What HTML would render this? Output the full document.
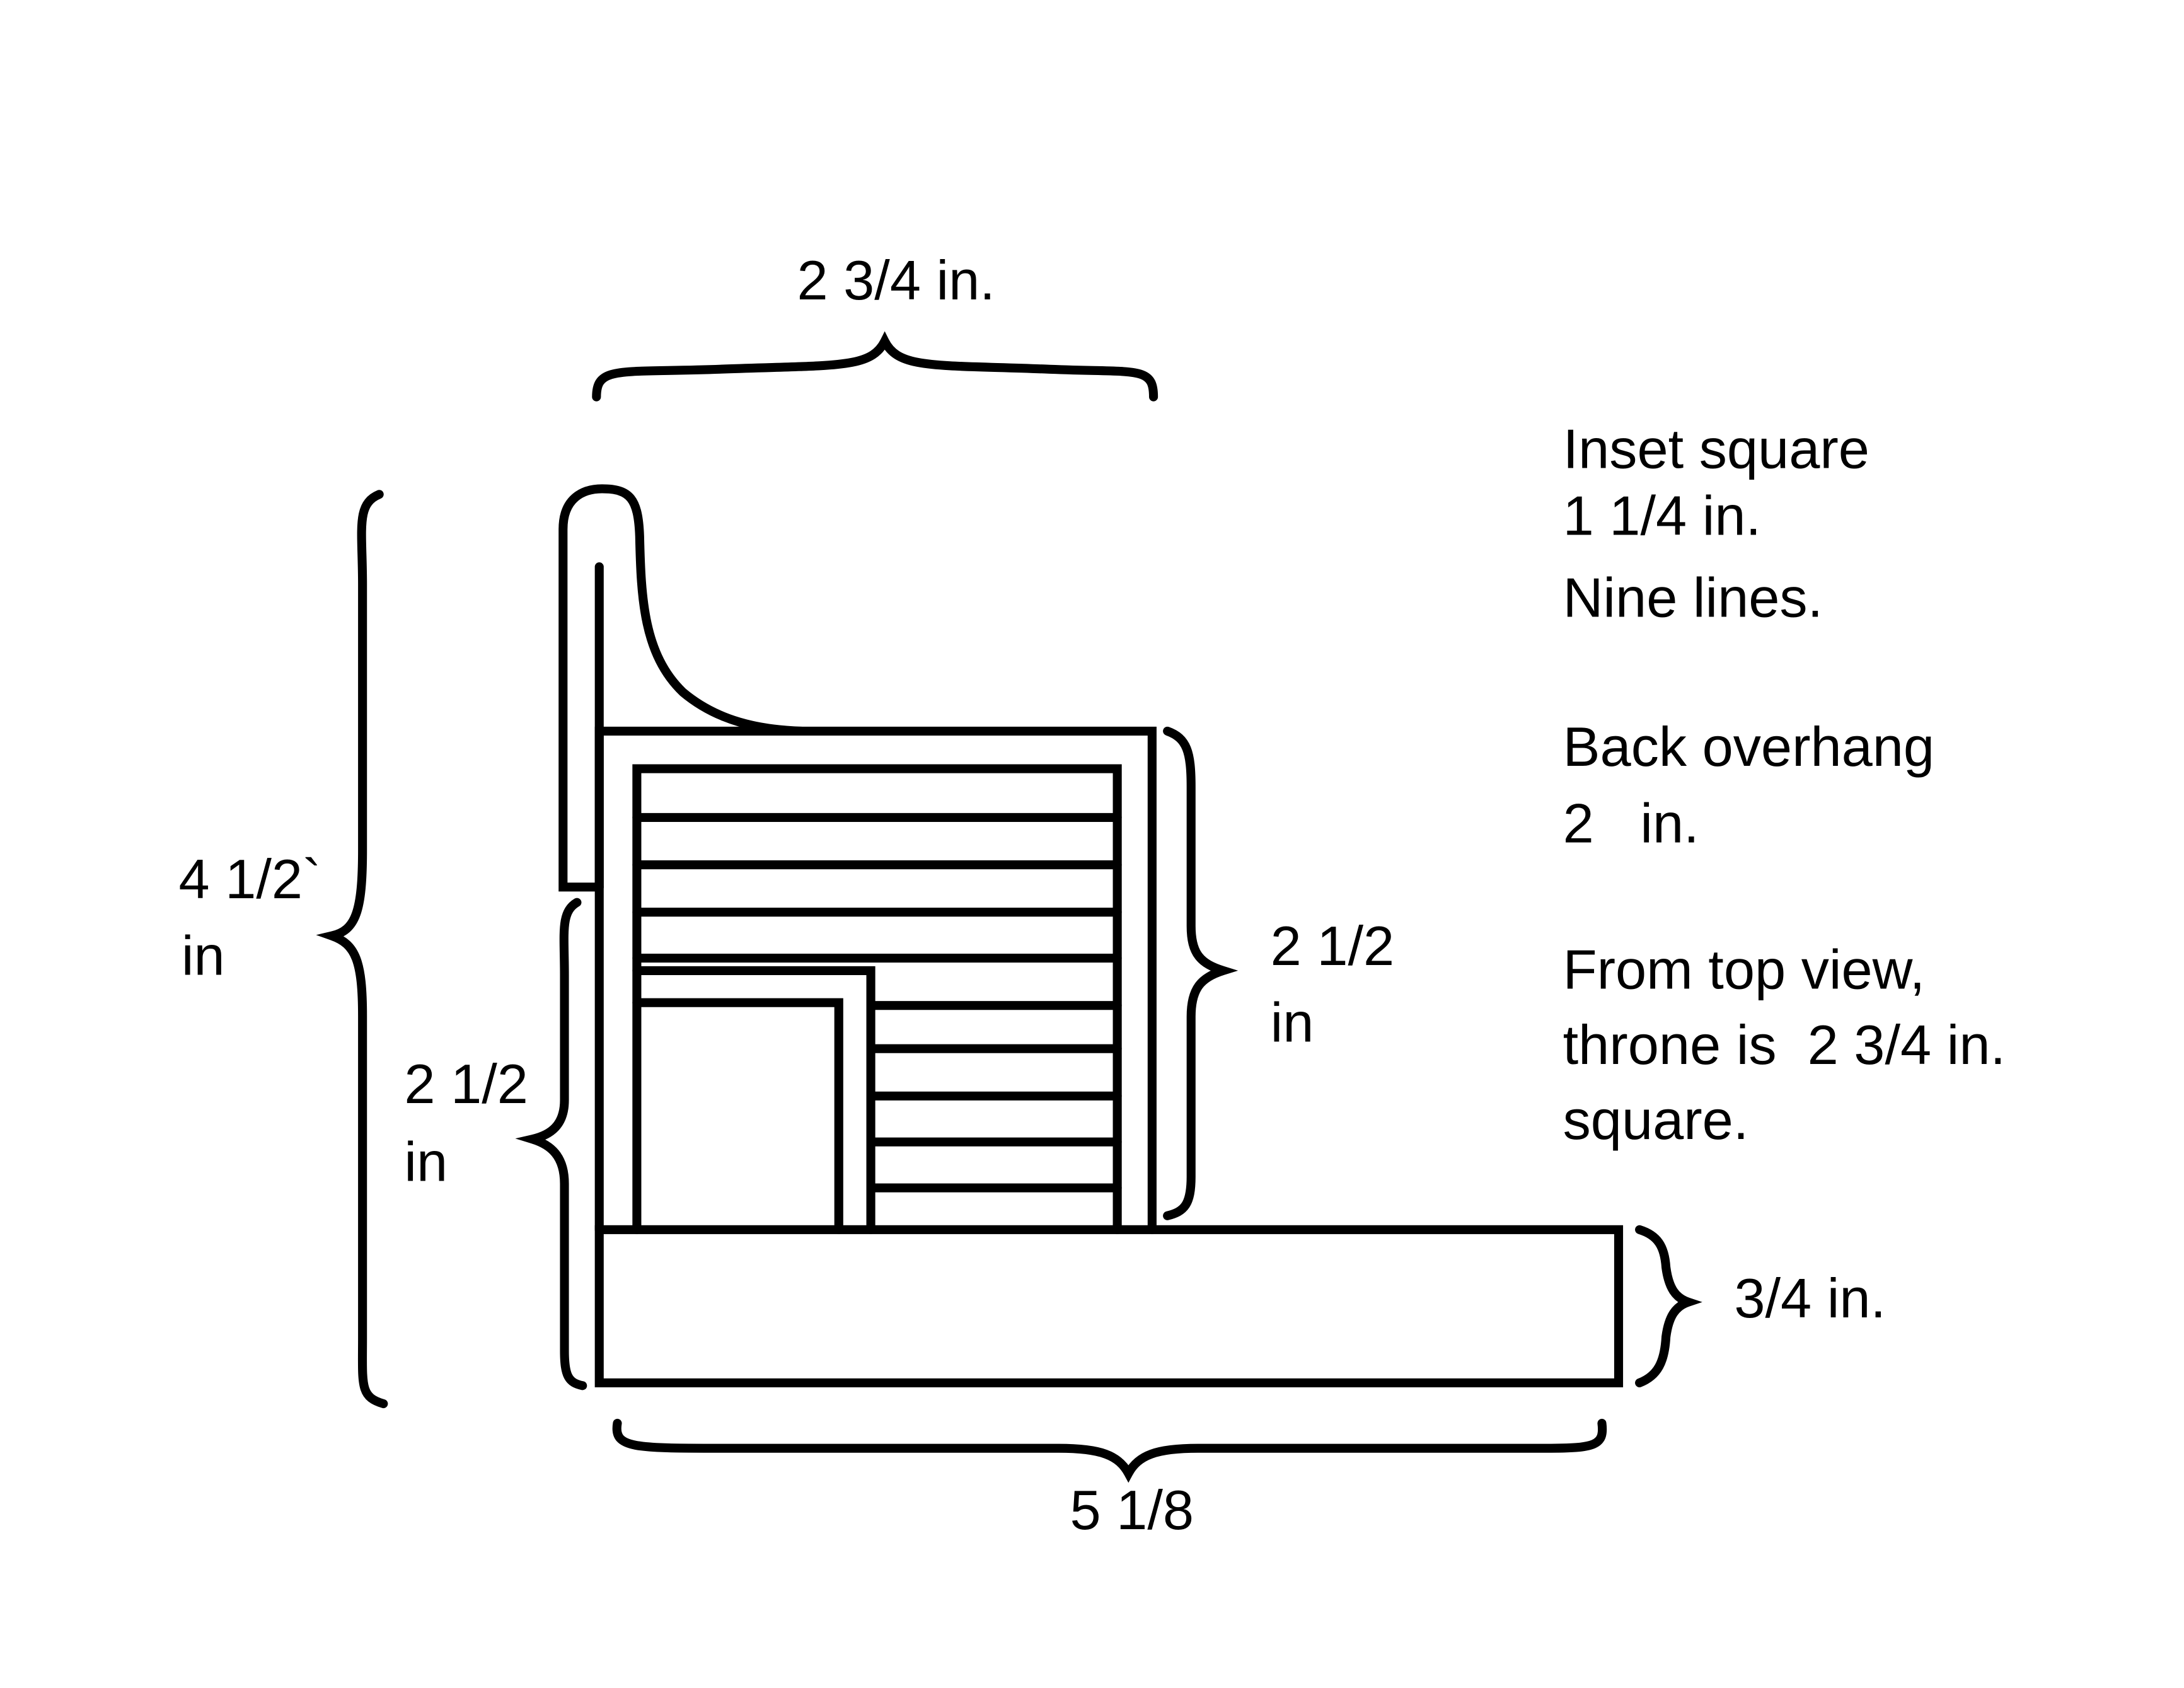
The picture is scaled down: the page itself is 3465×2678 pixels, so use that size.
<!DOCTYPE html>
<html><head><meta charset="utf-8"><style>
html,body{margin:0;padding:0;background:#fff;}
svg{display:block;}
text{font-family:"Liberation Sans",sans-serif;font-size:40px;fill:#000;}
</style></head><body>
<svg width="3465" height="2678" viewBox="0 0 1552 1200" xmlns="http://www.w3.org/2000/svg">
<g transform="scale(0.99)">
<g fill="none" stroke="#000" stroke-width="6.4" stroke-linejoin="miter" stroke-linecap="round">
<rect x="430" y="883" width="732" height="110"/>
<path d="M430 883 V525 H827 V883"/>
<path d="M457 883 V552 H802 V883"/>
<path d="M457 587 H802 M457 621 H802 M457 655 H802 M457 688 H802"/>
<path d="M625 722 H802 M625 753 H802 M625 787 H802 M625 820 H802 M625 853 H802"/>
<path d="M457 697 H625 V883 M457 720 H602 V883"/>
<path d="M430 637 H404 V380 C404 358 418 351 432 351 C452 351 458 358 459 385 C460 430 462 470 490 497 C515 518 545 524 575 525"/>
<path d="M430 407 V637"/>
<path d="M428 285 C428 262 445 268 520 265 C600 262 625 265 635 245 C645 265 670 262 750 265 C815 268 828 262 828 285"/>
<path d="M272 355 C255 362 260 380 260 420 L260 610 C260 655 255 668 238 672 C255 678 260 690 260 730 L260 960 C260 995 258 1003 275 1008"/>
<path d="M414 648 C402 655 405 670 405 700 L405 790 C405 808 395 815 382 818 C395 822 405 830 405 850 L405 970 C405 988 408 993 418 995"/>
<path d="M838 525 C852 530 855 540 855 565 L855 665 C855 685 862 692 878 697 C862 702 855 710 855 730 L855 845 C855 865 850 870 838 873"/>
<path d="M1177 883 C1190 887 1195 895 1196 910 C1198 925 1203 932 1212 935 C1203 938 1198 945 1196 960 C1195 978 1190 988 1177 993"/>
<path d="M443 1022 C440 1040 455 1040 520 1040 L760 1040 C790 1040 803 1045 810 1058 C817 1045 830 1040 860 1040 L1110 1040 C1145 1040 1152 1038 1150 1022"/>
</g>
<text x="572" y="215">2 3/4 in.</text>
<text x="128" y="645">4 1/2`</text>
<text x="130" y="700">in</text>
<text x="290" y="792">2 1/2</text>
<text x="290" y="848">in</text>
<text x="912" y="693">2 1/2</text>
<text x="912" y="748">in</text>
<text x="1245" y="946">3/4 in.</text>
<text x="768" y="1098">5 1/8</text>
<text x="1122" y="336">Inset square</text>
<text x="1122" y="384">1 1/4 in.</text>
<text x="1122" y="443">Nine lines.</text>
<text x="1122" y="550">Back overhang</text>
<text x="1122" y="605" xml:space="preserve">2   in.</text>
<text x="1122" y="710">From top view,</text>
<text x="1122" y="764" xml:space="preserve">throne is  2 3/4 in.</text>
<text x="1122" y="818">square.</text>
</g>
</svg>
</body></html>
